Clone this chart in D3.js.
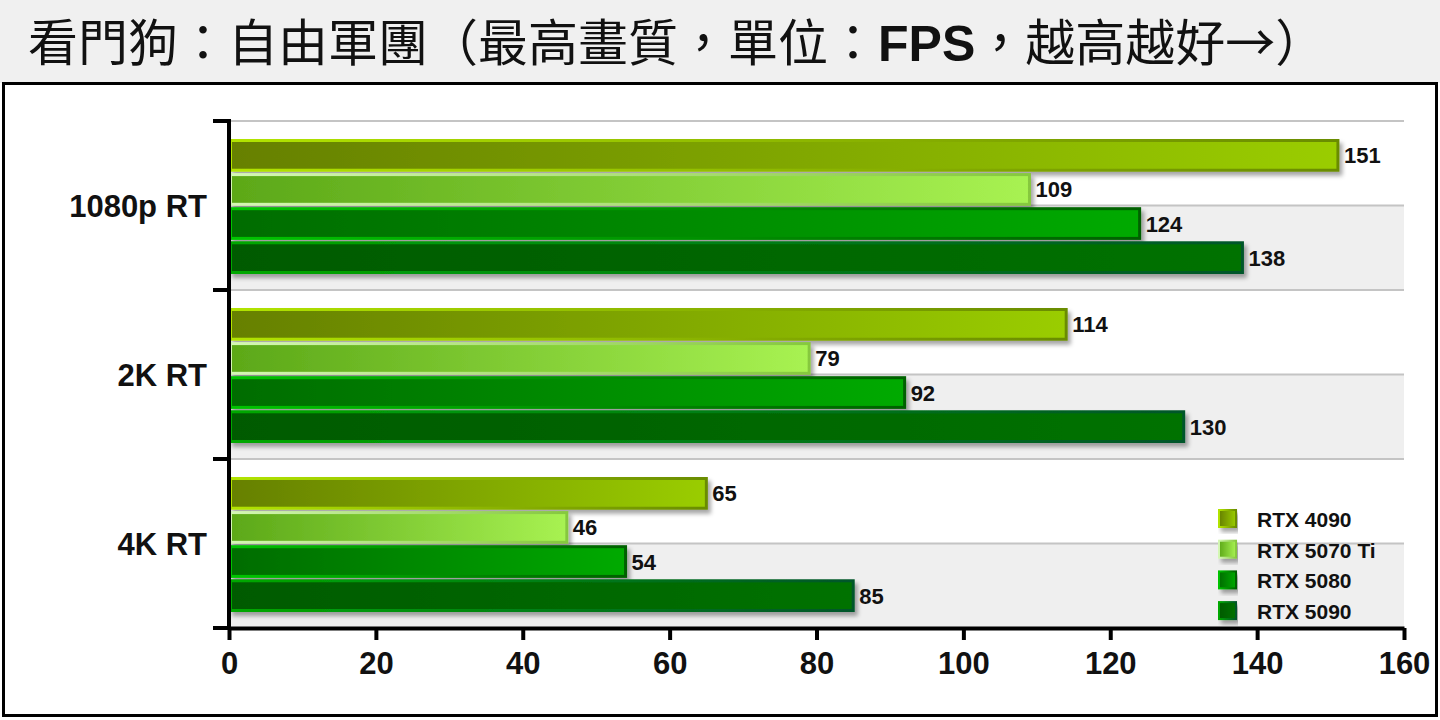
<!DOCTYPE html>
<html>
<head>
<meta charset="utf-8">
<script src="https://cdn.jsdelivr.net/npm/d3@7"></script>
<style>
  body { margin: 0; background: #fff; }
  svg { display: block; }
</style>
</head>
<body>
<svg id="chart" width="1440" height="720"></svg>
<script>
// data
var categories = ["1080p RT", "2K RT", "4K RT"];
var series = ["RTX 4090", "RTX 5070 Ti", "RTX 5080", "RTX 5090"];
var values = {
  "RTX 4090":    [151, 114, 65],
  "RTX 5070 Ti": [109, 79, 46],
  "RTX 5080":    [124, 92, 54],
  "RTX 5090":    [138, 130, 85]
};
var xTicks = [0, 20, 40, 60, 80, 100, 120, 140, 160];

// fill: dark -> light, border: light -> dark
var colors = {
  "RTX 4090":    { f0: "#668000", f1: "#9acd00", s0: "#b2e400", s1: "#6a8c00" },
  "RTX 5070 Ti": { f0: "#5ca818", f1: "#a8f252", s0: "#d4f7b4", s1: "#86c83e" },
  "RTX 5080":    { f0: "#006c00", f1: "#00aa00", s0: "#00c400", s1: "#006000" },
  "RTX 5090":    { f0: "#005a00", f1: "#007200", s0: "#00a800", s1: "#00562a" }
};

var svg = d3.select("#chart");
var defs = svg.append("defs");

series.forEach(function(s, i) {
  var c = colors[s];
  var gf = defs.append("linearGradient").attr("id", "fill" + i);
  gf.append("stop").attr("offset", "0%").attr("stop-color", c.f0);
  gf.append("stop").attr("offset", "100%").attr("stop-color", c.f1);
  var gs = defs.append("linearGradient").attr("id", "stroke" + i);
  gs.append("stop").attr("offset", "0%").attr("stop-color", c.s0);
  gs.append("stop").attr("offset", "100%").attr("stop-color", c.s1);
});

var shadow = defs.append("filter").attr("id", "shadow")
  .attr("x", "-5%").attr("y", "-20%").attr("width", "115%").attr("height", "160%");
shadow.append("feDropShadow")
  .attr("dx", 3).attr("dy", 4).attr("stdDeviation", 2)
  .attr("flood-color", "#000").attr("flood-opacity", 0.35);

// title bar
svg.append("rect").attr("x", 0).attr("y", 0).attr("width", 1440).attr("height", 83)
  .attr("fill", "#f0f0f0");
var title = svg.append("text").attr("x", 28).attr("y", 61)
  .style("font-family", "'Noto Sans CJK TC', sans-serif")
  .style("font-size", "50px").attr("fill", "#111");
title.append("tspan").text("看門狗：自由軍團（最高畫質，單位：");
title.append("tspan").text("FPS")
  .style("font-family", "'Liberation Sans', Arial, sans-serif").style("font-weight", "bold");
title.append("tspan").text("，越高越好→）");

// chart box
svg.append("rect").attr("x", 3.5).attr("y", 83.5).attr("width", 1433).attr("height", 632)
  .attr("fill", "#fff").attr("stroke", "#000").attr("stroke-width", 3);

var x = d3.scaleLinear().domain([0, 160]).range([229, 1404]);
var y = d3.scaleBand().domain(categories).range([121, 628]);
var yInner = d3.scaleBand().domain(series).range([18, y.bandwidth() - 16]).paddingInner(0.04);

var g = svg.append("g");

// alternating stripes and gridlines
categories.forEach(function(cat) {
  var top = y(cat), half = y.bandwidth() / 2;
  g.append("rect").attr("x", x(0)).attr("y", top + half)
    .attr("width", x(160) - x(0)).attr("height", half).attr("fill", "#efefef");
  [top, top + half].forEach(function(yy) {
    g.append("line").attr("x1", x(0)).attr("x2", x(160)).attr("y1", yy).attr("y2", yy)
      .attr("stroke", "#c4c4c4").attr("stroke-width", 2);
  });
});

// bars
categories.forEach(function(cat, ci) {
  var grp = g.append("g").attr("transform", "translate(0," + y(cat) + ")");
  series.forEach(function(s, si) {
    var v = values[s][ci];
    grp.append("rect")
      .attr("x", x(0) + 1.5)
      .attr("y", yInner(s) + 1.5)
      .attr("width", x(v) - x(0) - 1.5)
      .attr("height", yInner.bandwidth() - 3)
      .attr("fill", "url(#fill" + si + ")")
      .attr("stroke", "url(#stroke" + si + ")")
      .attr("stroke-width", 3)
      .attr("filter", "url(#shadow)");
    grp.append("text")
      .attr("x", x(v) + 6)
      .attr("y", yInner(s) + yInner.bandwidth() / 2 + 8)
      .style("font-family", "'Liberation Sans', Arial, sans-serif")
      .style("font-weight", "bold").style("font-size", "22px")
      .attr("fill", "#111")
      .text(v);
  });
});

// y axis
g.append("line").attr("x1", x(0)).attr("x2", x(0)).attr("y1", 119).attr("y2", 630)
  .attr("stroke", "#000").attr("stroke-width", 4);
categories.concat([null]).forEach(function(cat) {
  var yy = cat ? y(cat) : y.range()[1];
  g.append("line").attr("x1", x(0) - 16).attr("x2", x(0)).attr("y1", yy).attr("y2", yy)
    .attr("stroke", "#000").attr("stroke-width", 4);
});
categories.forEach(function(cat) {
  g.append("text").attr("x", 207).attr("y", y(cat) + y.bandwidth() / 2 + 11)
    .attr("text-anchor", "end")
    .style("font-family", "'Liberation Sans', Arial, sans-serif")
    .style("font-weight", "bold").style("font-size", "31px").attr("fill", "#111")
    .text(cat);
});

// x axis
var xAxis = g.append("g").attr("transform", "translate(0,628)")
  .call(d3.axisBottom(x).tickValues(xTicks).tickSize(12).tickSizeOuter(0).tickPadding(12));
xAxis.select(".domain").attr("stroke-width", 4);
xAxis.selectAll(".tick line").attr("stroke-width", 4);
xAxis.selectAll(".tick text")
  .style("font-family", "'Liberation Sans', Arial, sans-serif")
  .style("font-weight", "bold").style("font-size", "31px").attr("fill", "#111");

// legend
var legend = svg.append("g").attr("transform", "translate(1218,509)");
series.forEach(function(s, i) {
  var row = legend.append("g").attr("transform", "translate(0," + (i * 30.7) + ")");
  row.append("rect").attr("x", 1).attr("y", 1).attr("width", 17).attr("height", 17)
    .attr("fill", "url(#fill" + i + ")").attr("stroke", "url(#stroke" + i + ")")
    .attr("stroke-width", 2).attr("filter", "url(#shadow)");
  row.append("text").attr("x", 39).attr("y", 18)
    .style("font-family", "'Liberation Sans', Arial, sans-serif")
    .style("font-weight", "bold").style("font-size", "21px").attr("fill", "#111")
    .text(s);
});
</script>
</body>
</html>
